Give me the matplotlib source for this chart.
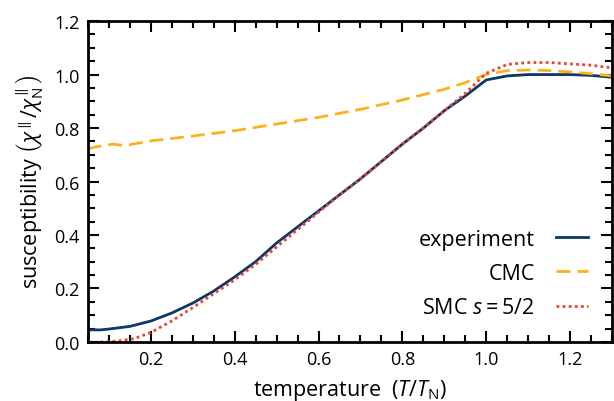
import matplotlib
matplotlib.use('Agg')
import matplotlib.pyplot as plt
from matplotlib.ticker import MultipleLocator

plt.rcParams['font.family'] = ['Open Sans', 'DejaVu Sans']
plt.rcParams['mathtext.fontset'] = 'custom'
plt.rcParams['mathtext.rm'] = 'Open Sans'
plt.rcParams['mathtext.it'] = 'Open Sans:italic'

# experiment
t_exp = [0.05, 0.08, 0.1, 0.15, 0.2, 0.25, 0.3, 0.35, 0.4, 0.45, 0.5, 0.55, 0.6, 0.65, 0.7,
         0.75, 0.8, 0.85, 0.9, 0.95, 1.0, 1.05, 1.1, 1.15, 1.2, 1.25, 1.3]
chi_exp = [0.045, 0.045, 0.048, 0.058, 0.078, 0.108, 0.145, 0.19, 0.243, 0.3, 0.37, 0.43, 0.49,
           0.55, 0.61, 0.675, 0.74, 0.8, 0.865, 0.92, 0.98, 0.995, 1.0, 1.0, 1.0, 0.997, 0.99]

# classical Monte Carlo
t_cmc = [0.05, 0.07, 0.09, 0.11, 0.13, 0.15, 0.2, 0.3, 0.4, 0.5, 0.6, 0.7, 0.8, 0.9, 0.95,
         1.0, 1.05, 1.1, 1.15, 1.2, 1.25, 1.3]
chi_cmc = [0.722, 0.73, 0.735, 0.74, 0.736, 0.738, 0.752, 0.77, 0.79, 0.815, 0.84, 0.87, 0.905,
           0.945, 0.97, 1.0, 1.015, 1.017, 1.015, 1.01, 1.003, 0.995]

# semiclassical Monte Carlo, s = 5/2
t_smc = [0.08, 0.12, 0.16, 0.2, 0.25, 0.3, 0.35, 0.4, 0.45, 0.5, 0.55, 0.6, 0.65, 0.7, 0.75,
         0.8, 0.85, 0.9, 0.95, 1.0, 1.05, 1.1, 1.15, 1.2, 1.25, 1.3]
chi_smc = [0.0, 0.003, 0.012, 0.035, 0.078, 0.128, 0.18, 0.232, 0.29, 0.355, 0.42, 0.485,
           0.55, 0.61, 0.675, 0.74, 0.8, 0.865, 0.93, 1.005, 1.038, 1.045, 1.045, 1.04, 1.035, 1.025]

fig = plt.figure(figsize=(6.14, 4.02), dpi=100)
ax = fig.add_axes([0.143, 0.147, 0.854, 0.798])

ax.plot(t_exp, chi_exp, color='#0b3866', lw=2.0, label='experiment')
ax.plot(t_cmc, chi_cmc, color='#fab21b', lw=2.0, ls=(0, (5, 2.5)), label='CMC')
ax.plot(t_smc, chi_smc, color='#e8452f', lw=2.0, ls=(0, (1, 1.2)), label='SMC $s=5/2$')

ax.set_xlim(0.05, 1.3)
ax.set_ylim(0, 1.2)
ax.xaxis.set_major_locator(MultipleLocator(0.2))
ax.xaxis.set_minor_locator(MultipleLocator(0.05))
ax.yaxis.set_major_locator(MultipleLocator(0.2))
ax.yaxis.set_minor_locator(MultipleLocator(0.05))
ax.tick_params(which='both', direction='in', top=True, right=True, labelsize=13, width=1.5)
ax.tick_params(which='major', length=8, pad=6)
ax.tick_params(which='minor', length=5)
for s in ax.spines.values():
    s.set_linewidth(2)

ax.set_xlabel(r'temperature  ($T/T_{\mathrm{N}}$)', fontsize=15.5, labelpad=6)
ax.set_ylabel(r'susceptibility $\left(\chi^{\parallel}/\chi^{\parallel}_{\mathrm{N}}\right)$',
              fontsize=15.5, labelpad=6)

ax.legend(loc='lower right', frameon=False, markerfirst=False, fontsize=15.5,
          handlelength=1.5, handletextpad=1.0, labelspacing=0.62,
          borderaxespad=0.7, bbox_to_anchor=(1.0, 0.0))

fig.savefig('out.png', dpi=100)
